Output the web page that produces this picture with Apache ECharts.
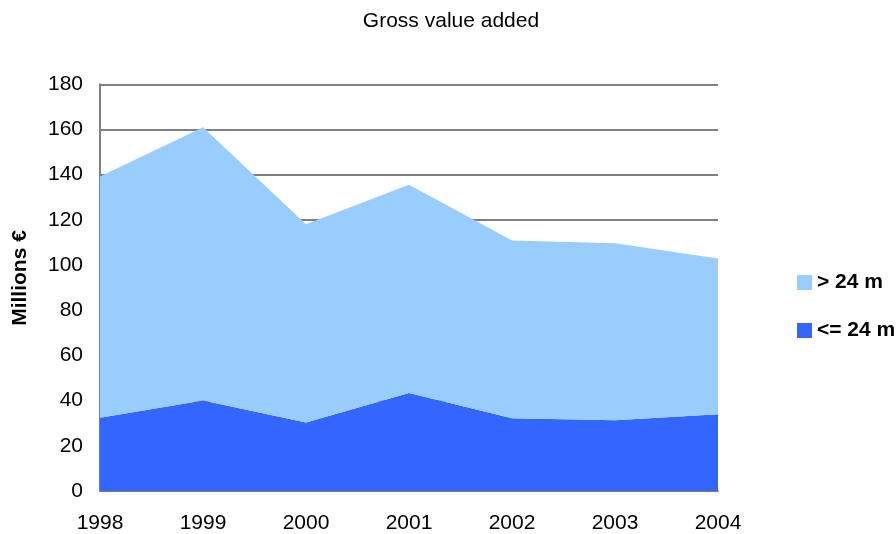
<!DOCTYPE html>
<html><head><meta charset="utf-8">
<script src="https://cdn.jsdelivr.net/npm/echarts@6/dist/echarts.min.js"></script>
<style>html,body{margin:0;padding:0;background:#fff}#c{width:896px;height:534px}</style>
</head><body><div id="c"></div>
<script>
const years = ['1998','1999','2000','2001','2002','2003','2004'];
const small = [32.4, 40.1, 30.3, 43.4, 32.2, 31.3, 34.0];   // <= 24 m
const large = [106.8, 120.9, 87.8, 92.1, 78.7, 78.4, 68.9]; // > 24 m
const yTicks = {min: 0, max: 180, interval: 20};

const FONT = 'Liberation Sans, Arial, sans-serif';
const chart = echarts.init(document.getElementById('c'));
chart.setOption({
  animation: false,
  title: {text: 'Gross value added', left: 446, top: 6, textAlign: 'center',
    textStyle: {fontFamily: FONT, fontSize: 21, fontWeight: 'normal', color: '#000'}},
  legend: {
    orient: 'vertical', left: 792, top: 267, itemGap: 27, itemWidth: 15, itemHeight: 15,
    data: [{name: '> 24 m', icon: 'rect'}, {name: '<= 24 m', icon: 'rect'}],
    textStyle: {fontFamily: FONT, fontSize: 21, fontWeight: 'bold', color: '#000'}
  },
  graphic: [{
    type: 'text', x: 20, y: 278, rotation: Math.PI / 2,
    style: {text: 'Millions €', font: 'bold 21px ' + FONT, fill: '#000', align: 'center', verticalAlign: 'middle'}
  }],
  grid: {left: 100, right: 178, top: 84.3, bottom: 42.5},
  xAxis: {
    type: 'category', data: years, boundaryGap: false,
    axisLine: {lineStyle: {color: '#808080', width: 2}},
    axisTick: {show: false},
    axisLabel: {fontFamily: FONT, fontSize: 21, color: '#000', margin: 22}
  },
  yAxis: {
    type: 'value', min: yTicks.min, max: yTicks.max, interval: yTicks.interval,
    axisLine: {show: true, lineStyle: {color: '#808080', width: 2}},
    axisTick: {show: false},
    axisLabel: {fontFamily: FONT, fontSize: 21, color: '#000', margin: 17},
    splitLine: {lineStyle: {color: '#808080', width: 2}}
  },
  series: [
    {name: '<= 24 m', type: 'line', stack: 'a', data: small, symbol: 'none',
      lineStyle: {width: 0}, areaStyle: {color: '#3366FF', opacity: 1}, itemStyle: {color: '#3366FF'}},
    {name: '> 24 m', type: 'line', stack: 'a', data: large, symbol: 'none',
      lineStyle: {width: 0}, areaStyle: {color: '#99CCFF', opacity: 1}, itemStyle: {color: '#99CCFF'}}
  ]
});
</script></body></html>
